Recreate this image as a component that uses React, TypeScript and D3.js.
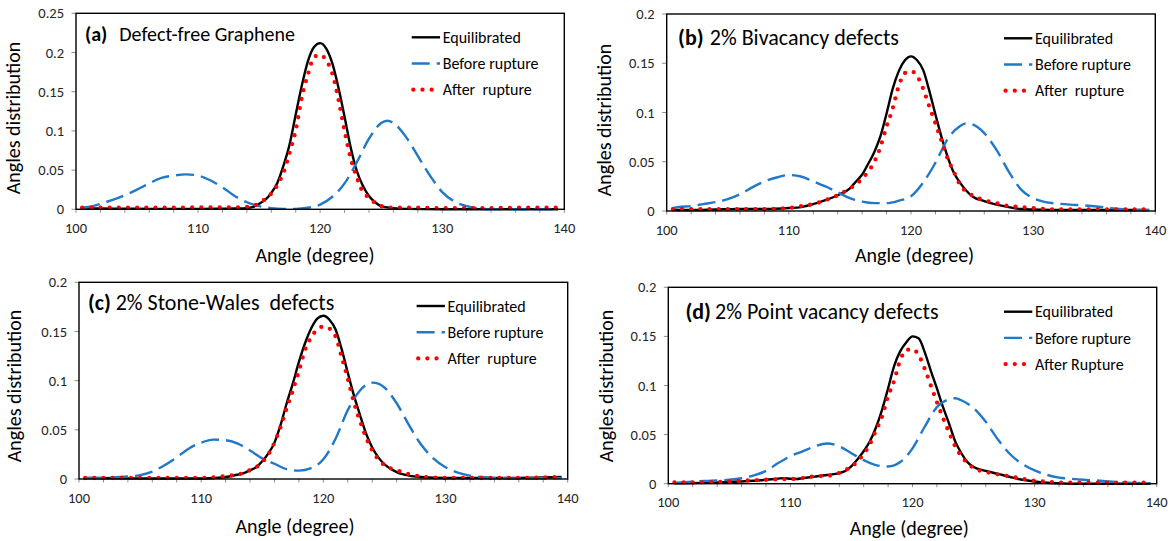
import React from 'react';
import * as d3 from 'd3';

// ---------------- data ----------------
type Pt = [number, number];

const xTickLabels = [100, 110, 120, 130, 140];
const yTicksA = [0, 0.05, 0.1, 0.15, 0.2, 0.25];
const yTicksBCD = [0, 0.05, 0.1, 0.15, 0.2];
const legendNamesABC = ['Equilibrated', 'Before rupture', 'After  rupture'];
const legendNamesD = ['Equilibrated', 'Before rupture', 'After Rupture'];
const panelTags = ['(a)', '(b)', '(c)', '(d)'];
const panelTitles = ['Defect-free Graphene', '2% Bivacancy defects', '2% Stone-Wales  defects', '2% Point vacancy defects'];
const xAxisTitle = 'Angle (degree)';
const yAxisTitle = 'Angles distribution';

const aEquilibrated: Pt[] = [[100.5,0.001],[102,0.001],[104,0.0008],[106,0.0006],[108,0.0005],[110,0.0005],[112,0.0008],[113,0.001],[114,0.0015],[114.5,0.003],[115,0.007],[115.5,0.012],[116,0.021],[116.5,0.034],[117,0.056],[117.5,0.083],[118,0.121],[118.5,0.158],[119,0.189],[119.5,0.207],[120,0.212],[120.5,0.205],[121,0.186],[121.5,0.155],[122,0.118],[122.5,0.079],[123,0.049],[123.5,0.03],[124,0.017],[124.5,0.009],[125,0.004],[126,0.0015],[127,0.0005],[130,0],[135,0],[139.5,0]];
const aBefore: Pt[] = [[100.5,0.002],[101,0.003],[102,0.007],[103,0.012],[104,0.018],[105,0.025],[106,0.033],[107,0.04],[108,0.043],[109,0.0445],[110,0.043],[111,0.037],[112,0.028],[113,0.017],[114,0.009],[115,0.004],[116,0.0015],[117,0.0005],[118,0.0005],[119,0.002],[120,0.006],[121,0.016],[122,0.033],[123,0.06],[124,0.09],[125,0.11],[125.5,0.113],[126,0.11],[127,0.093],[128,0.068],[129,0.043],[130,0.022],[131,0.01],[132,0.004],[133,0.001],[134,0],[139.5,0]];
const aAfter: Pt[] = [[100.5,0.002],[102,0.002],[104,0.002],[106,0.002],[108,0.002],[110,0.0025],[112,0.0025],[113,0.0025],[114,0.003],[114.5,0.004],[115,0.008],[115.5,0.013],[116,0.02],[116.5,0.031],[117,0.047],[117.5,0.072],[118,0.101],[118.5,0.143],[119,0.172],[119.5,0.194],[120,0.197],[120.5,0.19],[121,0.173],[121.5,0.14],[122,0.1],[122.5,0.065],[123,0.041],[123.5,0.022],[124,0.015],[124.5,0.008],[125,0.004],[126,0.002],[128,0.002],[130,0.0015],[132,0.0015],[134,0.0015],[136,0.002],[138,0.002],[139.5,0.002]];

const bEquilibrated: Pt[] = [[100.5,0.001],[102,0.001],[104,0.0015],[106,0.002],[108,0.002],[110,0.003],[111,0.004],[112,0.007],[113,0.011],[114,0.016],[115,0.023],[115.5,0.03],[116,0.037],[116.5,0.048],[117,0.06],[117.5,0.076],[118,0.099],[118.5,0.124],[119,0.142],[119.5,0.153],[120,0.157],[120.5,0.153],[121,0.143],[121.5,0.122],[122,0.098],[122.5,0.075],[123,0.055],[123.5,0.039],[124,0.029],[125,0.015],[126,0.01],[127,0.0065],[128,0.004],[129,0.002],[130,0.0015],[132,0.001],[136,0.001],[139.5,0.001]];
const bBefore: Pt[] = [[100.5,0.003],[101,0.004],[102,0.005],[103,0.007],[104,0.009],[105,0.012],[106,0.017],[107,0.024],[108,0.03],[109,0.034],[110,0.0365],[111,0.035],[112,0.03],[113,0.025],[114,0.019],[115,0.013],[116,0.0095],[117,0.008],[118,0.008],[119,0.0105],[120,0.015],[121,0.029],[122,0.049],[123,0.073],[124,0.086],[124.5,0.089],[125,0.088],[126,0.079],[127,0.062],[128,0.04],[129,0.022],[130,0.013],[131,0.009],[132,0.0075],[133,0.0065],[134,0.0058],[135,0.0048],[136,0.0035],[137,0.002],[138,0.0013],[139,0.001],[139.5,0.0008]];
const bAfter: Pt[] = [[100.5,0.002],[102,0.002],[104,0.002],[106,0.002],[108,0.002],[110,0.003],[111,0.005],[112,0.007],[113,0.011],[114,0.016],[115,0.023],[115.5,0.027],[116,0.033],[116.5,0.04],[117,0.05],[117.5,0.065],[118,0.086],[118.5,0.104],[119,0.127],[119.5,0.14],[120,0.142],[120.5,0.137],[121,0.124],[121.5,0.106],[122,0.089],[122.5,0.071],[123,0.053],[123.5,0.04],[124,0.027],[125,0.016],[126,0.011],[127,0.008],[128,0.005],[129,0.004],[130,0.003],[131,0.002],[132,0.0015],[136,0.0015],[139.5,0.0015]];

const cEquilibrated: Pt[] = [[100.5,0.001],[103,0.0008],[106,0.0005],[110,0.0005],[111,0.001],[112,0.002],[113,0.0045],[113.5,0.006],[114,0.009],[114.5,0.012],[115,0.018],[115.5,0.026],[116,0.037],[116.5,0.055],[117,0.077],[117.5,0.097],[118,0.119],[118.5,0.138],[119,0.153],[119.5,0.163],[120,0.166],[120.5,0.162],[121,0.152],[121.5,0.132],[122,0.108],[122.5,0.085],[123,0.065],[123.5,0.046],[124,0.032],[124.5,0.022],[125,0.015],[126,0.007],[127,0.0035],[128,0.002],[130,0.001],[135,0.001],[138,0.0015],[139.5,0.002]];
const cBefore: Pt[] = [[100.5,0.0008],[101,0.001],[102,0.0012],[103,0.0018],[104,0.0025],[105,0.004],[106,0.0075],[107,0.014],[108,0.022],[109,0.031],[110,0.037],[111,0.04],[112,0.0395],[113,0.036],[114,0.029],[115,0.021],[116,0.0155],[117,0.01],[118,0.0085],[119,0.011],[120,0.02],[121,0.041],[122,0.07],[123,0.09],[124,0.098],[124.5,0.097],[125,0.093],[126,0.077],[127,0.055],[128,0.035],[129,0.021],[130,0.012],[131,0.0065],[132,0.0035],[133,0.002],[134,0.001],[136,0.0005],[138,0.0007],[139.5,0.001]];
const cAfter: Pt[] = [[100.5,0.001],[104,0.001],[108,0.001],[110,0.001],[111,0.0017],[112,0.003],[113,0.0045],[114,0.009],[114.5,0.012],[115,0.017],[115.5,0.025],[116,0.037],[116.5,0.053],[117,0.072],[117.5,0.09],[118,0.11],[118.5,0.131],[119,0.144],[119.5,0.152],[120,0.155],[120.5,0.153],[121,0.145],[121.5,0.124],[122,0.102],[122.5,0.078],[123,0.059],[123.5,0.042],[124,0.029],[124.5,0.02],[125,0.014],[126,0.009],[127,0.005],[128,0.0025],[129,0.0015],[130,0.001],[134,0.001],[138,0.0015],[139.5,0.002]];

const dEquilibrated: Pt[] = [[100.5,0.0003],[102,0.0006],[104,0.0013],[105,0.0018],[106,0.0023],[107,0.003],[108,0.004],[109,0.0052],[109.5,0.0057],[110,0.005],[110.5,0.0048],[111,0.0057],[112,0.0072],[113,0.0088],[114,0.0108],[114.5,0.013],[115,0.018],[115.5,0.025],[116,0.033],[116.5,0.043],[117,0.057],[117.5,0.075],[118,0.097],[118.5,0.12],[119,0.135],[119.5,0.144],[120,0.15],[120.5,0.148],[121,0.134],[121.5,0.115],[122,0.097],[122.5,0.078],[123,0.061],[123.5,0.043],[124,0.031],[124.5,0.022],[125,0.017],[126,0.013],[127,0.01],[128,0.0068],[129,0.004],[130,0.0022],[131,0.001],[132,0.0004],[133,0],[139.5,0]];
const dBefore: Pt[] = [[100.5,0.0008],[101,0.0012],[102,0.002],[103,0.0028],[104,0.0033],[105,0.004],[106,0.0055],[107,0.0085],[108,0.013],[109,0.021],[110,0.028],[111,0.033],[112,0.038],[113,0.041],[114,0.038],[115,0.031],[116,0.024],[117,0.019],[118,0.0175],[119,0.022],[120,0.036],[121,0.058],[122,0.078],[123,0.086],[123.5,0.087],[124,0.085],[125,0.077],[126,0.063],[127,0.045],[128,0.03],[129,0.02],[130,0.0135],[131,0.009],[132,0.0062],[133,0.005],[134,0.004],[135,0.0033],[136,0.0023],[137,0.0014],[138,0.0008],[139,0.0006],[139.5,0.0005]];
const dAfter: Pt[] = [[100.5,0.0013],[102,0.0013],[104,0.0018],[106,0.003],[107,0.0035],[108,0.004],[109,0.0045],[110,0.0047],[111,0.0057],[112,0.0075],[113,0.008],[114,0.011],[114.5,0.014],[115,0.017],[115.5,0.023],[116,0.03],[116.5,0.04],[117,0.054],[117.5,0.068],[118,0.089],[118.5,0.105],[119,0.126],[119.5,0.136],[120,0.137],[120.5,0.131],[121,0.117],[121.5,0.1],[122,0.083],[122.5,0.067],[123,0.052],[123.5,0.038],[124,0.028],[124.5,0.021],[125,0.016],[126,0.012],[127,0.0095],[128,0.0074],[129,0.005],[130,0.003],[131,0.002],[132,0.0012],[134,0.001],[139.5,0.001]];

// --------------- layout / style ---------------
const W = 1170;
const H = 541;
const FONT = 'Carlito, Calibri, Lato, "Open Sans", sans-serif';
const BLACK = '#000000';
const BLUE = '#1f78c8';
const RED = '#ff0000';
const TICK = '#8c8c8c';
const LABEL = '#262626';

const LAYOUT = [
  { left: 76, right: 564.3, top: 13.3, bottom: 209.3, xTitleX: 315, xTitleY: 261.5, yTitleX: 13, yTitleY: 118, tagX: 85, textX: 119.3, titleY: 41.3, titleSize: 20, legX: 411.7, legY: 37.3 },
  { left: 666.7, right: 1155.3, top: 14, bottom: 211, xTitleX: 914.6, xTitleY: 261.5, yTitleX: 603.6, yTitleY: 120, tagX: 678.1, textX: 709.8, titleY: 45, titleSize: 22, legX: 1004, legY: 38.3 },
  { left: 79, right: 567.7, top: 282.3, bottom: 479, xTitleX: 295, xTitleY: 533, yTitleX: 13.9, yTitleY: 386, tagX: 88, textX: 115.7, titleY: 310, titleSize: 22, legX: 416.6, legY: 306 },
  { left: 668.3, right: 1156.7, top: 287.3, bottom: 483.7, xTitleX: 909.3, xTitleY: 535, yTitleX: 606.4, yTitleY: 386, tagX: 685.4, textX: 715.1, titleY: 319.3, titleSize: 22, legX: 1004, legY: 311.7 },
];
const LEG_STEP = 26.2;

const PANELS = [
  { series: [aEquilibrated, aBefore, aAfter], yTicks: yTicksA, names: legendNamesABC },
  { series: [bEquilibrated, bBefore, bAfter], yTicks: yTicksBCD, names: legendNamesABC },
  { series: [cEquilibrated, cBefore, cAfter], yTicks: yTicksBCD, names: legendNamesABC },
  { series: [dEquilibrated, dBefore, dAfter], yTicks: yTicksBCD, names: legendNamesD },
];

const SERIES_STYLE = [
  { stroke: BLACK, width: 2.4, dash: undefined as string | undefined, cap: 'butt' as const },
  { stroke: BLUE, width: 2.4, dash: '18 7', cap: 'butt' as const },
  { stroke: RED, width: 4.3, dash: '0 9.17', cap: 'round' as const },
];

function Panel({ idx }: { idx: number }) {
  const L = LAYOUT[idx];
  const P = PANELS[idx];
  const yMax = P.yTicks[P.yTicks.length - 1];
  const x = d3.scaleLinear().domain([100, 140]).range([L.left, L.right]);
  const y = d3.scaleLinear().domain([0, yMax]).range([L.bottom, L.top]);
  const line = d3.line<Pt>().x((p) => x(p[0])).y((p) => y(p[1])).curve(d3.curveMonotoneX);
  const minor = d3.range(100, 141, 2);

  return (
    <g>
      {minor.map((v) => (
        <line key={'mx' + v} x1={x(v)} x2={x(v)} y1={L.bottom} y2={L.bottom + 3.5} stroke={TICK} strokeWidth={1} />
      ))}
      {P.yTicks.map((v) => (
        <line key={'my' + v} x1={L.left - 4.5} x2={L.left} y1={y(v)} y2={y(v)} stroke={TICK} strokeWidth={1} />
      ))}
      {P.series.map((s, i) => (
        <path key={'s' + i} d={line(s) || ''} fill="none" stroke={SERIES_STYLE[i].stroke}
          strokeWidth={SERIES_STYLE[i].width} strokeDasharray={SERIES_STYLE[i].dash}
          strokeLinecap={SERIES_STYLE[i].cap} strokeLinejoin="round" />
      ))}
      <rect x={L.left} y={L.top} width={L.right - L.left} height={L.bottom - L.top} fill="none" stroke={BLACK} strokeWidth={1.4} />
      {xTickLabels.map((v) => (
        <text key={'xl' + v} x={x(v)} y={L.bottom + 23.5} textAnchor="middle" fontSize={14.5} fill={LABEL}>{v}</text>
      ))}
      {P.yTicks.map((v) => (
        <text key={'yl' + v} x={L.left - 12} y={y(v)} dy="0.35em" textAnchor="end" fontSize={14.5} fill={LABEL}>{String(v)}</text>
      ))}
      <text x={L.xTitleX} y={L.xTitleY} textAnchor="middle" fontSize={20} fill={BLACK}>{xAxisTitle}</text>
      <text transform={`translate(${L.yTitleX},${L.yTitleY}) rotate(-90)`} textAnchor="middle" dy="0.35em" fontSize={20} fill={BLACK}>{yAxisTitle}</text>
      <text x={L.tagX} y={L.titleY} fontSize={L.titleSize} fontWeight="bold" fill={BLACK}>{panelTags[idx]}</text>
      <text x={L.textX} y={L.titleY} fontSize={L.titleSize} fill={BLACK} style={{ whiteSpace: 'pre' }}>{panelTitles[idx]}</text>
      {P.names.map((n, i) => {
        const ly = L.legY + i * LEG_STEP;
        const st = SERIES_STYLE[i];
        const x1 = i === 2 ? L.legX + 1.6 : L.legX;
        const x2 = i === 2 ? L.legX + 20.3 : L.legX + 28.3;
        return (
          <g key={'lg' + i}>
            <line x1={x1} x2={x2} y1={ly} y2={ly} stroke={st.stroke} strokeWidth={st.width}
              strokeDasharray={st.dash} strokeLinecap={st.cap} />
            <text x={L.legX + 31} y={ly} dy="0.35em" fontSize={16} fill={BLACK} style={{ whiteSpace: 'pre' }}>{n}</text>
          </g>
        );
      })}
    </g>
  );
}

export default function App() {
  return (
    <svg width={W} height={H} viewBox={`0 0 ${W} ${H}`}
      style={{ position: 'fixed', left: 0, top: 0, background: '#ffffff', fontFamily: FONT }}>
      <rect x={0} y={0} width={W} height={H} fill="#ffffff" />
      {LAYOUT.map((_, i) => <Panel key={i} idx={i} />)}
    </svg>
  );
}
